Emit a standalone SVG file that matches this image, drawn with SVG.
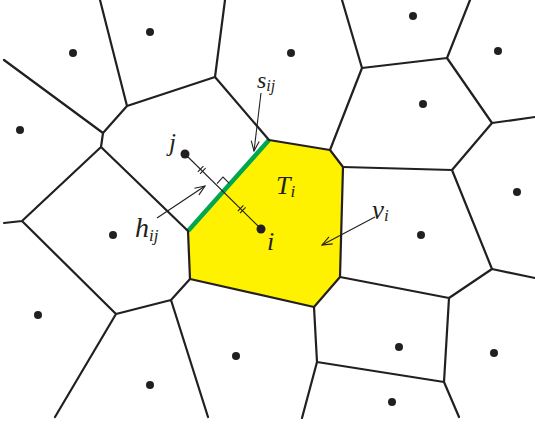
<svg xmlns="http://www.w3.org/2000/svg" width="535" height="426" viewBox="0 0 535 426">
<defs>
<style>
.edge{stroke:#231f20;stroke-width:2.2;fill:none;stroke-linecap:round;stroke-linejoin:round}
.thin{stroke:#231f20;stroke-width:1.1;fill:none}
.dot{fill:#231f20}
.lbl{font-family:'Liberation Serif','DejaVu Serif',serif;font-style:italic;fill:#231f20}
</style>
<marker id="open" viewBox="0 0 12 10" refX="11" refY="5" markerWidth="12" markerHeight="10" markerUnits="userSpaceOnUse" orient="auto">
<path d="M1,1 L11,5 L1,9" fill="none" stroke="#231f20" stroke-width="1.1"/>
</marker>
</defs>
<rect width="535" height="426" fill="#ffffff"/>
<g id="cell-i">
<polygon points="269,140 330,150 343,167 340,277 314,307 190,279 188,231" fill="#fff200" stroke="none"/>
<polyline class="edge" points="269,140 330,150 343,167 340,277 314,307 190,279 188,231"/>
<line id="edge-s-ij" x1="188" y1="231" x2="269" y2="140" stroke="#00a650" stroke-width="4.5" stroke-linecap="butt"/>
</g>
<g id="connectors">
<path class="edge" d="M100,0 L127,106 L215,77 L225,0 M4,60 L103,133 L127,106 M103,133 L101,147 L22,221 M101,147 L188,231 M215,77 L269,140 M342,0 L362,68 L447,58 L470,0 M362,68 L330,150 M447,58 L492,123 L535,117 M492,123 L452,170 M343,167 L452,170 L492,269 L535,278 M492,269 L449,298 M340,277 L449,298 L444,382 M314,307 L317,362 L444,382 M317,362 L302,418 M444,382 L459,417 M4,223 L22,221 L116,314 L171,300 L190,279 M116,314 L55,417 M171,300 L208,417"/>
</g>
<g id="sites">
<circle class="dot" cx="73" cy="53" r="4"/>
<circle class="dot" cx="150" cy="32" r="4"/>
<circle class="dot" cx="20" cy="130" r="4"/>
<circle class="dot" cx="291" cy="53" r="4"/>
<circle class="dot" cx="413" cy="16" r="4"/>
<circle class="dot" cx="498" cy="51" r="4"/>
<circle class="dot" cx="423" cy="104" r="4"/>
<circle class="dot" cx="517" cy="192" r="4"/>
<circle class="dot" cx="113" cy="235" r="4"/>
<circle class="dot" cx="38" cy="315" r="4"/>
<circle class="dot" cx="150" cy="385" r="4"/>
<circle class="dot" cx="236" cy="356" r="4"/>
<circle class="dot" cx="421" cy="235" r="4"/>
<circle class="dot" cx="399" cy="347" r="4"/>
<circle class="dot" cx="494" cy="353" r="4"/>
<circle class="dot" cx="392" cy="402" r="4"/>
</g>
<g id="segment-ij">
<line class="thin" x1="185" y1="154" x2="261" y2="229"/>
<path class="thin" d="M197.8,171.8 L203.4,166.1 M200,173.9 L205.6,168.1 M237.8,211.2 L243.4,205.4 M240,213.2 L245.6,207.4"/>
<polyline class="thin" points="217,183.7 223,177 229.3,183.3"/>
<circle id="site-j" class="dot" cx="185" cy="154" r="4.5"/>
<circle id="site-i" class="dot" cx="261" cy="229" r="4.5"/>
</g>
<g id="arrows">
<line class="thin" x1="261" y1="93" x2="254" y2="151" marker-end="url(#open)"/>
<line class="thin" x1="157" y1="218" x2="205" y2="186" marker-end="url(#open)"/>
<line class="thin" x1="375" y1="217" x2="322" y2="245" marker-end="url(#open)"/>
</g>
<g id="labels">
<text class="lbl" x="257" y="88" font-size="24">s<tspan font-size="16" dy="3">ij</tspan></text>
<text class="lbl" x="169" y="151" font-size="25">j</text>
<text class="lbl" x="135" y="237" font-size="28">h<tspan font-size="17" dy="4">ij</tspan></text>
<text class="lbl" x="276" y="194" font-size="26">T<tspan font-size="17" dy="3">i</tspan></text>
<text class="lbl" x="267" y="250" font-size="26">i</text>
<text class="lbl" x="372" y="219" font-size="27">v<tspan font-size="17" dy="2">i</tspan></text>
</g>
</svg>
